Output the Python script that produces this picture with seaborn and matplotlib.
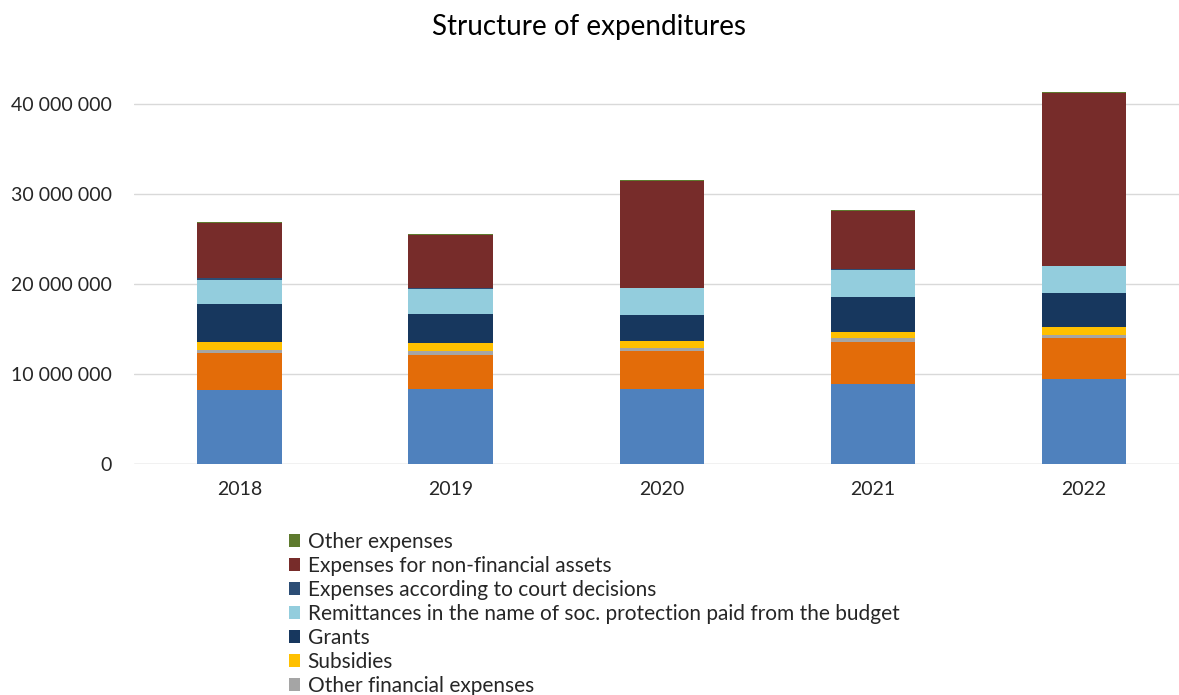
import numpy as np
import pandas as pd
import matplotlib
matplotlib.use("Agg")
import matplotlib.pyplot as plt
from matplotlib.patches import Patch
from matplotlib.ticker import FuncFormatter
import seaborn as sns

# Budget expenditures by economic category, 2018-2022
years = ["2018", "2019", "2020", "2021", "2022"]

employee_expenses = [8.19e6, 8.30e6, 8.30e6, 8.92e6, 9.41e6]
goods_and_services = [4.18e6, 3.78e6, 4.26e6, 4.60e6, 4.56e6]
other_financial = [0.30e6, 0.48e6, 0.30e6, 0.45e6, 0.33e6]
subsidies = [0.89e6, 0.85e6, 0.78e6, 0.73e6, 0.89e6]
grants = [4.22e6, 3.22e6, 2.96e6, 3.82e6, 3.78e6]
social_remittances = [2.67e6, 2.78e6, 2.96e6, 3.07e6, 3.03e6]
court_decisions = [0.19e6, 0.15e6, 0.05e6, 0.05e6, 0.05e6]
non_financial_assets = [6.18e6, 5.85e6, 11.80e6, 6.47e6, 19.19e6]
other_expenses = [0.11e6, 0.11e6, 0.11e6, 0.11e6, 0.11e6]

series_names = [
    "Employee expenses",
    "Expenses for goods and services",
    "Other financial expenses",
    "Subsidies",
    "Grants",
    "Remittances in the name of soc. protection paid from the budget",
    "Expenses according to court decisions",
    "Expenses for non-financial assets",
    "Other expenses",
]
series_values = [
    employee_expenses, goods_and_services, other_financial, subsidies, grants,
    social_remittances, court_decisions, non_financial_assets, other_expenses,
]
series_colors = [
    "#4F81BD", "#E36C09", "#A5A5A5", "#FFC000", "#17375E",
    "#93CDDD", "#2C4D75", "#772C2A", "#5E7A2E",
]

sns.set_theme(style="white")
font = ["Lato", "DejaVu Sans"]
plt.rcParams["font.family"] = font

fig = plt.figure(figsize=(11.79, 6.95), dpi=100)
ax = fig.add_axes([134 / 1179, (695 - 464) / 695, 1055.5 / 1179, 405 / 695])

bottom = np.zeros(len(years))
for name, vals, color in zip(series_names, series_values, series_colors):
    df = pd.DataFrame({"year": years, "value": vals})
    sns.barplot(data=df, x="year", y="value", color=color, width=0.4,
                bottom=bottom, ax=ax, saturation=1, edgecolor="none",
                linewidth=0, zorder=3)
    bottom = bottom + np.array(vals)

ax.set_xlim(-0.5, len(years) - 0.5)
ax.set_ylim(0, 45e6)
ax.set_yticks([0, 10e6, 20e6, 30e6, 40e6])
ax.yaxis.set_major_formatter(FuncFormatter(lambda v, p: f"{int(v):,}".replace(",", " ")))
ax.grid(axis="y", color="#D9D9D9", linewidth=1.0, zorder=0)
ax.grid(axis="x", visible=False)
for side in ["top", "right", "left", "bottom"]:
    ax.spines[side].set_visible(False)
ax.axhline(0, color="#D9D9D9", linewidth=1.0, zorder=2)
ax.set_xlabel("")
ax.set_ylabel("")
ax.tick_params(axis="both", length=0, labelsize=14, colors="#262626")
ax.tick_params(axis="x", pad=12)
ax.tick_params(axis="y", pad=16)

fig.text(589 / 1179, 1 - 27 / 695, "Structure of expenditures", ha="center",
         va="center", fontsize=20, color="#000000")

# Legend lists the upper series first, as they are stacked
legend_count = 7
handles = [Patch(facecolor=c, edgecolor="none", label=n)
           for n, c in list(zip(series_names[::-1], series_colors[::-1]))[:legend_count]]
fig.legend(handles=handles, loc="upper left", bbox_to_anchor=(289 / 1179, 1 - 532 / 695),
           frameon=False, fontsize=15, handlelength=0.55, handleheight=0.55,
           handletextpad=0.35, labelspacing=0.19, borderaxespad=0, borderpad=0,
           labelcolor="#262626")

fig.savefig("out.png", dpi=100)
